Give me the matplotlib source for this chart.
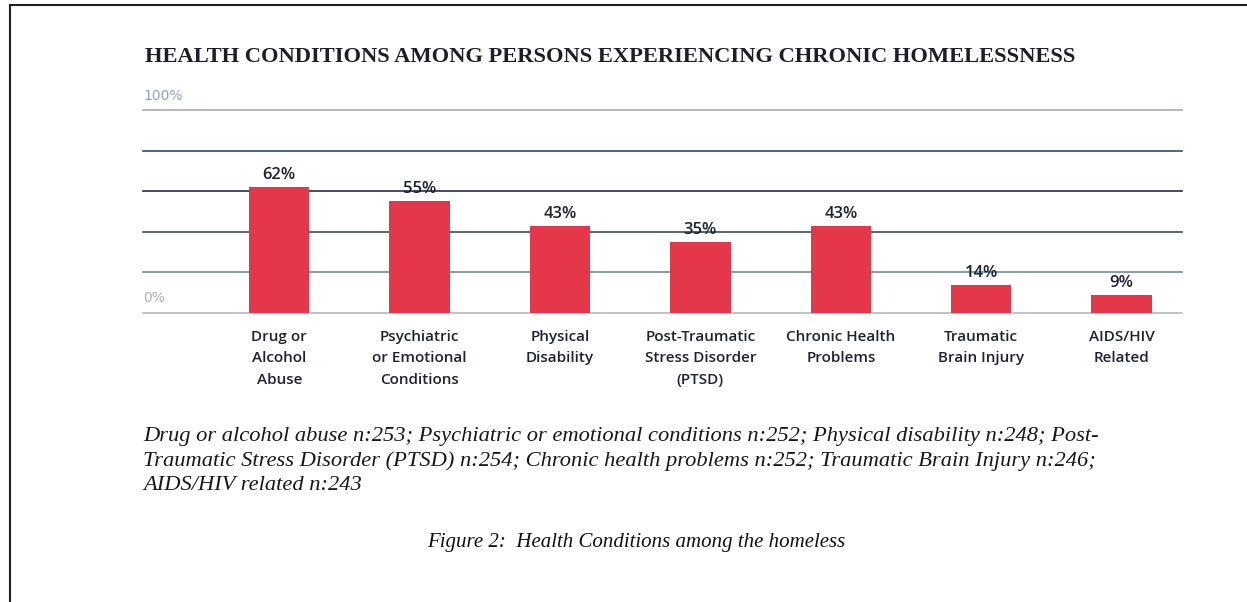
import numpy as np
import matplotlib.pyplot as plt
from matplotlib.lines import Line2D

categories = ["Drug or\nAlcohol\nAbuse", "Psychiatric\nor Emotional\nConditions", "Physical\nDisability",
              "Post-Traumatic\nStress Disorder\n(PTSD)", "Chronic Health\nProblems", "Traumatic\nBrain Injury",
              "AIDS/HIV\nRelated"]
values = [62, 55, 43, 35, 43, 14, 9]
value_labels = ["62%", "55%", "43%", "35%", "43%", "14%", "9%"]
grid_levels = [0, 20, 40, 60, 80, 100]
grid_colors = ["#b4b8bd", "#6f8aa6", "#3c4a5c", "#22304a", "#2b4c72", "#a3adb8"]

title = "HEALTH CONDITIONS AMONG PERSONS EXPERIENCING CHRONIC HOMELESSNESS"
note_lines = ["Drug or alcohol abuse n:253; Psychiatric or emotional conditions n:252; Physical disability n:248; Post-",
              "Traumatic Stress Disorder (PTSD) n:254; Chronic health problems n:252; Traumatic Brain Injury n:246;",
              "AIDS/HIV related n:243"]
caption = "Figure 2:  Health Conditions among the homeless"

W, H = 1247, 602
fig = plt.figure(figsize=(W / 100, H / 100), dpi=100)

# axes box in pixel coords: gridlines run from x=143 to 1182, 0% at y=313, 100% at y=110
ax = fig.add_axes([143 / W, 1 - 313 / H, (1182 - 143) / W, (313 - 110) / H])
x = np.arange(len(categories))
ax.set_xlim(-0.97, 6.43)
ax.set_ylim(0, 100)

for lvl, c in zip(grid_levels, grid_colors):
    ax.axhline(lvl, color=c, lw=1.2, zorder=1, clip_on=False)

ax.bar(x, values, width=0.43, color="#e5374a", zorder=2)
for xi, v, lab in zip(x, values, value_labels):
    ax.text(xi, v + 2, lab, ha="center", va="bottom", fontsize=12, color="#1c2433",
            family="Open Sans", fontweight="semibold", zorder=3)

ax.set_xticks(x)
ax.set_xticklabels(categories, fontsize=11, color="#1c2433", family="Open Sans",
                   fontweight="semibold", linespacing=1.68)
ax.tick_params(axis="x", length=0, pad=12)
ax.set_yticks([])
for s in ax.spines.values():
    s.set_visible(False)

# y labels sit above the gridlines at the left edge
ax.text(0, 1.035, "100%", transform=ax.transAxes, fontsize=10, color="#8fa3bb",
        family="Liberation Sans Narrow", va="bottom", ha="left")
ax.text(0, 0.04, "0%", transform=ax.transAxes, fontsize=10, color="#a8b0ba",
        family="Liberation Sans Narrow", va="bottom", ha="left")

fig.text(145 / W, 1 - 57 / H, title, fontsize=16.2, family="Liberation Serif", fontweight="bold",
         color="#1a1f2a", va="center", ha="left")
# footnote, one line every 24 px
for i, line in enumerate(note_lines):
    fig.text(143 / W, 1 - (437 + 24 * i) / H, line, fontsize=16.2, family="Liberation Serif",
             style="italic", color="#15181d", va="center", ha="left")
fig.text(636 / W, 1 - 543 / H, caption, fontsize=15, family="Liberation Serif", style="italic",
         color="#111111", va="center", ha="center")

# frame lines of the scanned page
fig.add_artist(Line2D([10 / W, 10 / W], [0, 1 - 5 / H], color="#222222", lw=1.5))
fig.add_artist(Line2D([10 / W, 1], [1 - 5 / H, 1 - 5 / H], color="#222222", lw=1.5))

fig.savefig("out.png", dpi=100)
